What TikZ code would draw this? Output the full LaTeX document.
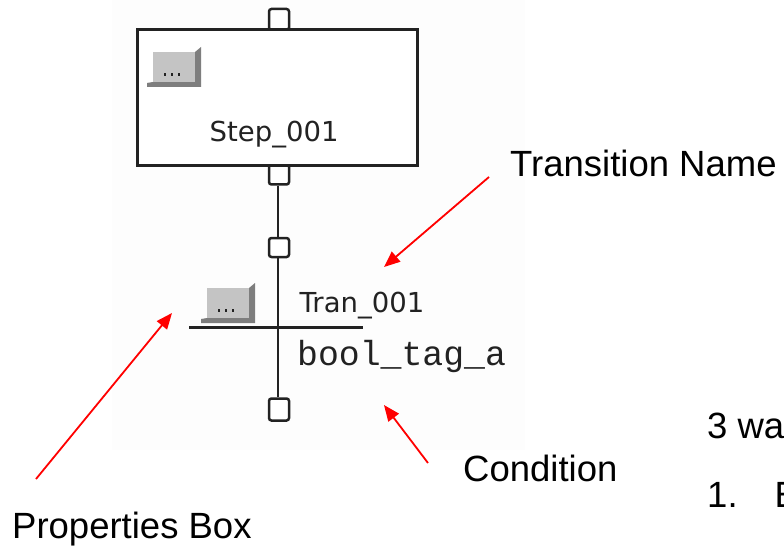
\documentclass[tikz,border=0pt]{standalone}
\usepackage{fontspec}
\setmainfont{Liberation Sans}
\newfontfamily\plcsans{DejaVu Sans}
\newfontfamily\plcmono{Liberation Mono}
\usetikzlibrary{arrows.meta}
\definecolor{btnface}{HTML}{C4C4C4}
\definecolor{btnshade}{HTML}{7E7E7E}
\definecolor{linegray}{HTML}{222222}
\definecolor{shotbg}{HTML}{FDFDFD}
\tikzset{
  conn/.style={draw=linegray, line width=2.5pt, rounded corners=2.5pt, fill=white, inner sep=0pt, minimum width=20pt},
  plcline/.style={draw=linegray, line width=2.6pt},
  callout/.style={draw=red, line width=1.8pt, -{Triangle[length=16pt,width=13pt]}},
  bigtext/.style={inner sep=0pt, anchor=base west, font=\fontsize{36.5}{40}\selectfont},
  plclabel/.style={inner sep=0pt, anchor=base west, font=\plcsans\fontsize{27.5}{30}\selectfont, text=linegray},
  plccode/.style={inner sep=0pt, anchor=base west, font=\plcmono\fontsize{34.8}{38}\selectfont, text=linegray},
}
\newcommand{\propbtn}[3]{% name, left, top
  \begin{scope}[shift={(#2,#3)}]
    \fill[btnshade] (-6,31) -- (0,30) -- (42,30) -- (42,0) -- (48,-5) -- (48,35) -- (-6,35) -- cycle;
    \node[fill=btnface, inner sep=0pt, minimum width=42pt, minimum height=30pt, anchor=north west] (#1) at (0,0) {};
    \foreach \dx in {12,19,26} \fill[linegray] (\dx-1.3,21) rectangle (\dx+1.3,23.6);
  \end{scope}}
\begin{document}
\begin{tikzpicture}[x=1pt, y=-1pt]
\useasboundingbox (0,0) rectangle (784,548);
\clip (0,0) rectangle (784,548);
\fill[white] (0,0) rectangle (784,548);
\fill[shotbg] (112,0) rectangle (525,450);
% SFC step
\node[conn, minimum height=21pt] (sqTop) at (279,19.5) {};
\node[conn, minimum height=20pt] (sqStepOut) at (279,174.5) {};
\node[draw=linegray, line width=3pt, fill=white, minimum width=280pt, minimum height=136pt, inner sep=0pt] (step) at (277.5,98) {};
\node[plclabel] (stepname) at (209.5,142) {Step\_001};
\propbtn{stepbtn}{153}{52}
% transition
\node[conn, minimum height=19pt] (sqTranIn) at (279,247.5) {};
\node[conn, minimum height=22pt] (sqTranOut) at (279,409.5) {};
\draw[plcline] (sqStepOut.south -| 277.8,0) -- (sqTranIn.north -| 277.8,0);
\draw[plcline] (sqTranIn.south -| 277.8,0) -- (sqTranOut.north -| 277.8,0);
\coordinate (barL) at (189,327.7);
\coordinate (barR) at (363,327.7);
\draw[plcline] (barL) -- (barR);
\propbtn{tranbtn}{207}{288}
\node[plclabel] (tranname) at (299.5,312) {Tran\_001};
\node[plccode] (cond) at (297,365) {bool\_tag\_a};
% callouts
\node[bigtext] (lblTN) at (510,177) {Transition Name};
\node[bigtext] (lblCond) at (463,481) {Condition};
\node[bigtext] (lblProp) at (12,538) {Properties Box};
\node[bigtext] (lblWays) at (707,438) {3 wa};
\node[bigtext] (lblOne) at (707,507) {1.\hspace{37pt}E};
\coordinate (tnS) at (489,177);
\coordinate (tnT) at (384,267);
\coordinate (pbS) at (36,479);
\coordinate (pbT) at (172,313);
\coordinate (cdS) at (428,463);
\coordinate (cdT) at (384,405);
\draw[callout] (tnS) -- (tnT);
\draw[callout] (pbS) -- (pbT);
\draw[callout] (cdS) -- (cdT);
\end{tikzpicture}
\end{document}
